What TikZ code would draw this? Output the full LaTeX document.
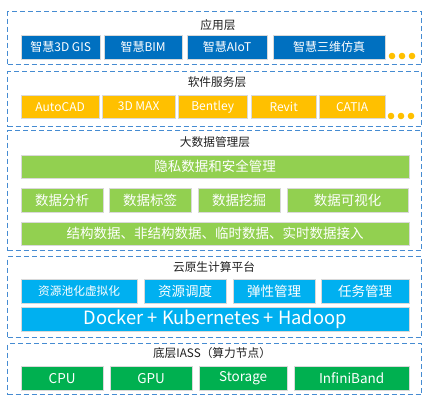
\documentclass[tikz,border=0pt]{standalone}
\usepackage{fontspec}
\setmainfont{Noto Sans CJK SC}
\definecolor{frameblue}{RGB}{70,140,210}
\definecolor{appblue}{RGB}{0,112,192}
\definecolor{softorange}{RGB}{255,192,0}
\definecolor{datagreen}{RGB}{146,208,80}
\definecolor{cloudblue}{RGB}{0,176,240}
\definecolor{iassgreen}{RGB}{0,176,80}
\definecolor{titlegray}{RGB}{30,30,30}
\tikzset{
  frame/.style={draw=frameblue, line width=1.1pt, dash pattern=on 5pt off 3pt, anchor=north west, inner sep=0pt},
  box/.style={anchor=north west, inner sep=0pt, text=white, draw=white!70!gray, line width=0.3pt, font=\fontsize{12}{14}\selectfont},
  title/.style={text=titlegray, inner sep=0pt, font=\fontsize{11.7}{14}\selectfont},
  dot/.style={circle, fill=softorange, minimum size=6.6pt, inner sep=0pt}
}
\newcommand{\bx}[7]{% name, x1, y1, x2, y2, color, text
  \node[box, fill=#6, minimum width=#4pt-#2pt, minimum height=#5pt-#3pt] (#1) at (#2,#3) {#7};}
\begin{document}
\begin{tikzpicture}[x=1pt,y=-1pt]
\useasboundingbox (0,0) rectangle (427,410);
% frames
\node[frame, minimum width=414pt, minimum height=53pt] (fapp) at (7,11) {};
\node[frame, minimum width=414pt, minimum height=55pt] (fsoft) at (7,71) {};
\node[frame, minimum width=414pt, minimum height=120pt] (fdata) at (7,130) {};
\node[frame, minimum width=414pt, minimum height=81pt] (fcloud) at (7,256) {};
\node[frame, minimum width=414pt, minimum height=51pt] (fiass) at (7,343) {};
% titles
\node[title] (tapp) at (218,25) {应用层};
\node[title] (tsoft) at (217,82) {软件服务层};
\node[title] (tdata) at (215,142) {大数据管理层};
\node[title] (tcloud) at (214,267) {云原生计算平台};
\node[title] (tiass) at (212,353) {底层IASS（算力节点）};
% app layer
\bx{a1}{21}{35}{100}{59}{appblue}{智慧3D GIS}
\bx{a2}{104}{35}{182}{59}{appblue}{智慧BIM}
\bx{a3}{187}{35}{267}{59}{appblue}{智慧AIoT}
\bx{a4}{273}{35}{385}{59}{appblue}{智慧三维仿真}
\node[dot] (ad1) at (392,56) {};
\node[dot] (ad2) at (402,56) {};
\node[dot] (ad3) at (412,56) {};
% software layer
\bx{s1}{21}{95}{99}{118}{softorange}{AutoCAD}
\bx{s2}{102}{95}{175}{118}{softorange}{3D MAX}
\bx{s3}{178}{95}{247}{118}{softorange}{Bentley}
\bx{s4}{251}{95}{316}{118}{softorange}{Revit}
\bx{s5}{319}{95}{385}{118}{softorange}{CATIA}
\node[dot] (sd1) at (391,116) {};
\node[dot] (sd2) at (401,116) {};
\node[dot] (sd3) at (411,116) {};
% big data layer
\tikzset{box/.append style={font=\fontsize{13.5}{16}\selectfont}}
\bx{d0}{21}{155}{409}{178}{datagreen}{隐私数据和安全管理}
\bx{d1}{21}{188}{103}{212}{datagreen}{数据分析}
\bx{d2}{109}{188}{191}{212}{datagreen}{数据标签}
\bx{d3}{198}{188}{280}{212}{datagreen}{数据挖掘}
\bx{d4}{287}{188}{408}{212}{datagreen}{数据可视化}
\bx{d5}{21}{222}{409}{245}{datagreen}{结构数据、非结构数据、临时数据、实时数据接入}
% cloud layer
\bx{c1}{21}{279}{137}{303}{cloudblue}{\fontsize{11.7}{14}\selectfont 资源池化虚拟化}
\bx{c2}{144}{279}{226}{303}{cloudblue}{资源调度}
\bx{c3}{233}{279}{315}{303}{cloudblue}{弹性管理}
\bx{c4}{321}{279}{409}{303}{cloudblue}{任务管理}
\bx{c5}{21}{307}{409}{331}{cloudblue}{\fontsize{18.3}{22}\selectfont Docker + Kubernetes + Hadoop}
% iass layer
\bx{i1}{21}{366}{103}{390}{iassgreen}{CPU}
\bx{i2}{110}{366}{192}{390}{iassgreen}{GPU}
\bx{i3}{199}{366}{287}{390}{iassgreen}{Storage}
\bx{i4}{294}{366}{409}{390}{iassgreen}{InfiniBand}
\end{tikzpicture}
\end{document}
